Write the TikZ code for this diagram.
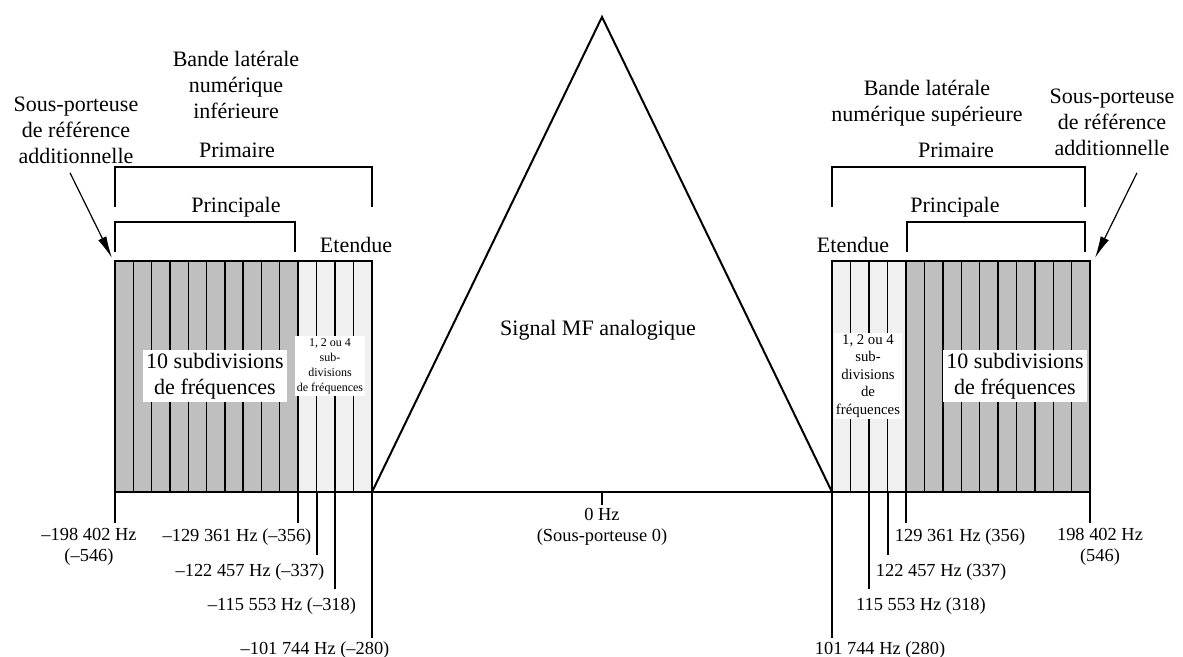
\documentclass[tikz,border=0pt]{standalone}
\usepackage{fontspec}
\setmainfont{Liberation Serif}
\usetikzlibrary{arrows.meta, positioning}

\begin{document}
\begin{tikzpicture}[
x=0.5pt,
y=-0.5pt,
txt/.style={align=center,
font=\fontsize{11}{13}\selectfont,
inner sep=0pt},
hz/.style={align=center,
font=\fontsize{9.2}{10.5}\selectfont,
inner sep=0pt},
whitebox/.style={fill=white,
align=center,
inner sep=1.5pt},
subline/.style={line width=0.7pt},
outline/.style={line width=1pt},
bracket/.style={line width=0.6pt},
tick/.style={line width=1pt},
arrow/.style={-{Latex[length=11pt, width=4.5pt]}, line width=0.6pt}
]

\useasboundingbox (0,0) rectangle (1183,657);

% bandes
\fill[black!25] (115,261) rectangle (298,492);
\fill[black!6] (298,261) rectangle (372,492);
\fill[black!6] (832,261) rectangle (906,492);
\fill[black!25] (906,261) rectangle (1090,492);
\foreach \i in {1,...,10} \draw[subline] ({115+\i*18.3},261) -- ({115+\i*18.3},492);
\foreach \x in {316.5,335,353.5} \draw[subline] (\x,261) -- (\x,492);
\foreach \x in {850.5,869,887.5,906} \draw[subline] (\x,261) -- (\x,492);
\foreach \i in {1,...,9} \draw[subline] ({906+\i*18.4},261) -- ({906+\i*18.4},492);
\draw[outline] (115,261) rectangle (372,492);
\draw[outline] (832,261) rectangle (1090,492);

% signal analogique
\coordinate (apex) at (602,17);
\coordinate (baseL) at (372,492);
\coordinate (baseR) at (832,492);
\draw[outline] (baseL) -- (apex) -- (baseR);
\draw[outline] (115,492) -- (1090,492);
\node[txt] (analog) at (598,330) {Signal MF analogique};

% crochets
\draw[bracket] (115,207) |- (372,167) -- (372,207);
\draw[bracket] (115,252) |- (295,222) -- (295,252);
\draw[bracket] (832,207) |- (1085,167) -- (1085,207);
\draw[bracket] (907,252) |- (1085,222) -- (1085,252);

% textes du haut
\node[txt] (bandL) at (236,85) {Bande latérale\\numérique\\inférieure};
\node[txt] (bandR) at (927,103) {Bande latérale\\numérique supérieure};
\node[txt] (srefL) at (76,130) {Sous-porteuse\\de référence\\additionnelle};
\node[txt] (srefR) at (1112,122) {Sous-porteuse\\de référence\\additionnelle};
\node[txt] (primL) at (237,150) {Primaire};
\node[txt] (primR) at (956,150) {Primaire};
\node[txt] (princL) at (236,207) {Principale};
\node[txt] (princR) at (955,207) {Principale};
\node[txt] (etenL) at (356,245) {Etendue};
\node[txt] (etenR) at (853,245) {Etendue};

\coordinate (tipL) at (112,258);
\coordinate (tipR) at (1095,258);
\draw[arrow] ([shift={(-6,9)}]srefL.south) -- (tipL);
\draw[arrow] ([shift={(25,17)}]srefR.south) -- (tipR);

% subdivisions
\node[whitebox, font=\fontsize{11}{13}\selectfont] (subL) at (215,376) {10 subdivisions\\de fréquences};
\node[whitebox, font=\fontsize{11}{13}\selectfont] (subR) at (1015,376) {10 subdivisions\\de fréquences};
\node[whitebox, font=\fontsize{6}{7.5}\selectfont, inner sep=1pt] (extL) at (330,366) {1, 2 ou 4\\sub-\\divisions\\de fréquences};
\node[whitebox, font=\fontsize{7.4}{8.7}\selectfont, inner sep=1pt] (extR) at (868,376) {1, 2 ou 4\\sub-\\divisions\\de\\fréquences};

% graduations
\coordinate (fL546) at (115,492);
\coordinate (fL356) at (298,492);
\coordinate (fL337) at (316.5,492);
\coordinate (fL318) at (335,492);
\coordinate (fL280) at (372,492);
\coordinate (f0) at (602,492);
\coordinate (fR280) at (832,492);
\coordinate (fR318) at (869,492);
\coordinate (fR337) at (887.5,492);
\coordinate (fR356) at (906,492);
\coordinate (fR546) at (1090,492);
\draw[tick] (fL546) -- ++(0,31);
\draw[tick] (fL356) -- ++(0,31);
\draw[tick] (fL337) -- ++(0,63);
\draw[tick] (fL318) -- ++(0,97);
\draw[tick] (fL280) -- ++(0,146);
\draw[tick] (f0) -- ++(0,13);
\draw[tick] (fR280) -- ++(0,146);
\draw[tick] (fR318) -- ++(0,97);
\draw[tick] (fR337) -- ++(0,63);
\draw[tick] (fR356) -- ++(0,31);
\draw[tick] (fR546) -- ++(0,31);

\node[hz] (hzL546) at (89,547) {–198 402 Hz\\(–546)};
\node[hz] (hzL356) at (237,537) {–129 361 Hz (–356)};
\node[hz] (hzL337) at (250,572) {–122 457 Hz (–337)};
\node[hz] (hzL318) at (282,606) {–115 553 Hz (–318)};
\node[hz] (hzL280) at (315,650) {–101 744 Hz (–280)};
\node[hz] (hz0) at (602,527) {0 Hz\\(Sous-porteuse 0)};
\node[hz] (hzR280) at (880,650) {101 744 Hz (280)};
\node[hz] (hzR318) at (921,606) {115 553 Hz (318)};
\node[hz] (hzR337) at (941,572) {122 457 Hz (337)};
\node[hz] (hzR356) at (960,537) {129 361 Hz (356)};
\node[hz] (hzR546) at (1100,547) {198 402 Hz\\(546)};

\end{tikzpicture}
\end{document}
